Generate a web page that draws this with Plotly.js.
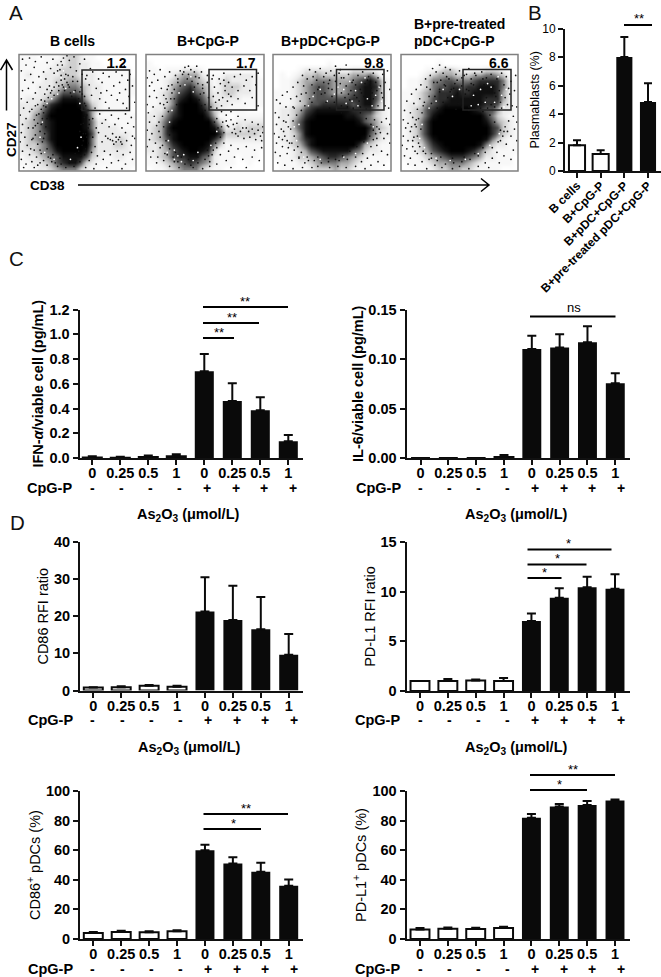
<!DOCTYPE html>
<html><head><meta charset="utf-8">
<script src="https://cdn.plot.ly/plotly-3.0.1.min.js"></script>
<style>html,body{margin:0;padding:0;background:#fff}#c{width:661px;height:977px}</style></head>
<body><div id="c"></div>
<script>
// ---------- data ----------
const doseLabels = ['0','0.25','0.5','1','0','0.25','0.5','1'];
const cpgLabels = ['-','-','-','-','+','+','+','+'];
const plasmaLabels = ['B cells','B+CpG-P','B+pDC+CpG-P','B+pre-treated pDC+CpG-P'];
const plasmaVal = [1.8,1.2,8.0,4.85];
const plasmaErr = [0.35,0.25,1.4,1.3];
const ifnVal = [0.005,0.003,0.008,0.015,0.70,0.46,0.385,0.135];
const ifnErr = [0.010,0.008,0.012,0.015,0.14,0.145,0.105,0.05];
const il6Val = [0,0,0,0.001,0.110,0.1115,0.117,0.0755];
const il6Err = [0,0,0,0.002,0.0135,0.0135,0.016,0.010];
const cd86RfiVal = [0.8,0.85,1.3,1.0,21.3,19,16.5,9.6];
const cd86RfiErr = [0.05,0.3,0.2,0.3,9.2,9.2,8.7,5.6];
const pdl1RfiVal = [1,1,1.05,1,7.05,9.4,10.45,10.3];
const pdl1RfiErr = [0,0.2,0.1,0.3,0.75,0.95,1.05,1.45];
const cd86PctVal = [4,4.8,4.6,5.2,60,51,45.5,36];
const cd86PctErr = [0.8,0.7,0.7,0.7,3.7,4.3,6,4.2];
const pdl1PctVal = [6.5,7,6.8,7.5,82,89.5,90.5,93.5];
const pdl1PctErr = [1,0.7,0.8,0.7,2.5,1.8,2.8,0.8];
const gateValues = ['1.2','1.7','9.8','6.6'];
// estimated dot density in the CD38/CD27 plots: 20 x 20 cells, 0 = empty, 9 = solid black
const densityB = ["11101112332110000000","11111122332211000000","11111223332211111110","12112223332221111110","11112233443221111111","11122234554322111111","11122346665322111111","12223468887422111110","22235789998632111110","22346899999742111110","22457999999841111111","23457899999852211111","23457899999852222111","23456899999962222221","23456899999952222321","23345799999952223321","22345689999842222221","12234568888632112211","11223467886321111111","01122345553211011110"];
const densityCpG = ["00000000000000000000","10000000000000000000","11011122210000000000","11112344421112222210","11123455432123222211","01124567543123332211","11234678653223322211","11235789864222221111","11235899975322111111","12246899986321111000","22357899997411011111","22468999999631122222","23479999999852232333","23478999999973333332","23468999999752222222","22357899998531111111","22346789987311111110","12346778865211101110","11234567654211100100","01123455532110000000"];
const densityPdc = ["00000000000000000000","00000000010000000000","00001222222112221100","01012334333334445310","01123445554445678631","01123456654456788731","11123456654456788631","11123456666667788631","11123466777776788521","12234678888887777421","12235789999988765321","12246899999999865421","12246899999999997432","12235899999999996422","12235789999999985321","11234689999999743211","11123467888886532211","11123345677654321111","01112234555443211110","01111123334332111100"];
const densityPre = ["00000000000000000000","00000010000000000000","00001123321111222100","00012344433344554310","01123556655567777521","01123566776778887521","11234577787788887421","11234677888888777421","12235678888888776321","12346789999987664221","12346899999999753211","12357999999999864321","12357999999999976321","12357999999999975321","12346899999999853211","11235789999998532211","11234678999875321111","11123456777654221110","01112344555432111110","00111233443321111000"];
// individual events estimated from the plots: x,y pairs in percent of the plot (y downward)
const dotsB = [3,4,9,3,14,6,19,2,24,7,29,4,33,9,38,3,43,5,47,2,41,1,36,6,52,8,56,4,27,12,21,15,13,11,6,9,2,14,10,17,17,19,5,22,12,24,23,21,30,16,35,13,44,11,49,14,54,17,46,19,39,21,32,24,26,27,18,28,8,29,3,31,14,33,22,34,28,31,36,18,42,26,50,23,53,28,57,21,
2,38,7,41,12,38,4,46,9,49,1,52,6,55,3,60,8,63,2,67,5,71,1,75,7,78,3,83,9,86,2,90,6,94,11,92,13,97,4,97,16,95,10,81,12,72,14,61,15,52,16,43,19,39,21,44,
58,18,63,15,68,21,72,16,77,19,83,15,88,18,93,22,60,26,66,29,71,24,75,31,81,27,86,24,91,30,95,17,62,35,69,38,74,41,79,35,84,39,89,42,94,36,57,44,65,46,70,33,77,46,86,33,92,46,61,12,76,11,90,10,97,27,99,41,
58,52,63,55,69,51,74,56,79,52,85,55,91,51,96,54,60,60,66,63,71,59,77,62,82,60,88,63,93,59,98,62,57,68,63,71,68,67,74,70,80,68,86,71,91,67,97,70,59,76,65,79,71,75,76,72,78,73,80,74,83,75,85,73,88,77,92,74,96,78,99,72,62,84,67,87,73,83,78,86,84,83,89,86,95,84,60,91,66,94,72,90,79,93,85,91,91,94,97,90,57,97,64,98,75,97,88,98,81,77,83,71,87,75,
24,30,30,28,37,26,43,28,52,32,56,36,21,50,24,55,19,60,22,68,20,75,18,82,25,88,28,92,33,96,40,97,47,96,52,92,56,86,54,78,55,68,53,60,56,54,
11,47,14,44,17,51,13,56,16,59,12,63,18,66,14,69,11,73,16,77,13,82,19,85,15,88,21,91,24,95,18,93,27,89,31,93,36,94,43,93,49,91,53,87,51,83,57,81,55,74,58,71,52,66,59,63,55,59,60,56,57,52,53,47,59,48,56,42,51,38,54,34,48,31,44,33,41,24,38,28,34,31,30,35,25,37,22,40,27,33,19,47,23,45,36,22,40,17,33,14,37,9,42,18,34,27,46,23,39,31,45,36,20,55,23,62,21,72,24,81,29,86,35,89,42,88,48,85];
const dotsCpG = [3,14,7,17,12,13,1,20,5,24,10,22,16,19,20,15,25,18,29,14,33,11,38,13,43,10,47,15,52,18,56,21,27,24,19,27,13,29,7,31,3,27,9,37,15,35,22,33,3,36,1,43,6,45,12,42,18,41,24,38,48,26,52,24,49,33,53,37,50,43,55,45,
2,50,7,53,3,58,9,61,1,65,5,68,11,66,3,73,8,76,1,79,6,83,12,80,10,88,4,88,15,91,18,86,9,93,20,96,24,92,28,97,
57,18,62,21,66,16,70,24,75,19,80,17,85,22,90,19,95,16,58,28,63,25,67,31,61,33,65,37,70,34,73,28,78,31,83,27,88,31,93,26,59,41,64,44,69,40,73,43,78,38,84,42,90,37,95,44,57,36,62,39,67,27,60,46,72,36,66,22,
68,52,72,56,77,59,82,63,87,66,92,68,97,70,75,64,80,66,85,63,90,64,95,65,99,67,70,62,73,67,78,70,83,72,88,71,93,73,98,74,60,55,65,58,64,49,72,49,78,53,84,56,90,58,95,60,99,62,
66,76,72,78,60,80,56,86,63,86,70,83,78,81,85,79,92,82,98,80,68,91,75,88,82,90,90,88,96,91,60,94,54,96,72,97,85,97,48,98,40,97,
18,30,22,26,27,21,31,17,36,17,41,15,45,20,44,25,48,29,46,34,45,39,47,44,50,48,16,46,14,53,19,49,11,58,15,62,12,71,17,74,14,78,20,81,16,85,23,88,27,92,33,94,38,95,44,93,50,90,53,87,57,82,59,76,63,71,66,67,69,61,58,58,61,63,24,30,29,27,35,21,41,28,21,38,26,43,17,38,15,43,20,69,25,84,30,88,36,90,44,88,52,82,54,92,32,15,36,10,42,19,39,23,64,62,68,57,74,60,76,68];
const dotsPdc = [31,13,36,15,40,12,45,16,49,14,25,18,29,21,34,19,21,24,26,27,17,28,12,32,8,35,15,38,6,42,11,45,3,39,20,36,23,40,18,46,52,18,48,22,53,10,57,13,62,9,
2,50,5,54,9,57,3,60,7,64,13,62,1,68,5,71,10,70,3,76,8,79,14,76,2,84,6,87,12,85,18,82,4,93,10,95,16,91,22,89,27,93,33,97,25,97,17,98,38,96,
56,16,60,20,64,17,68,22,72,18,76,15,81,19,85,16,89,20,93,17,95,24,91,27,87,24,83,29,78,25,74,30,70,26,66,31,62,27,58,33,57,25,61,37,65,39,69,35,73,40,77,36,81,42,85,38,89,44,93,37,95,44,58,44,63,45,68,46,74,45,79,47,84,33,88,31,92,33,80,22,82,26,75,33,71,37,67,24,64,34,
97,14,99,30,98,46,96,55,99,60,92,58,97,68,94,72,99,76,88,78,92,83,97,86,85,86,80,89,89,92,94,95,75,92,70,96,62,97,55,96,48,97,83,95,78,98,90,64,87,68,85,73,43,24,47,29,41,34,50,36,45,41,38,30,33,26,
24,48,20,52,17,57,15,64,18,70,16,76,21,79,24,84,29,88,35,91,41,93,47,92,53,90,59,87,65,83,71,79,77,75,82,70,85,65,83,60,79,55,74,50,68,47,27,44,31,38,35,33,39,28,33,41,28,33,24,34,37,22,43,19,47,25,44,33,50,30,53,23,58,20,52,41,48,46,17,45,13,52,11,58,9,66,12,74,8,73,13,80,22,88,30,91,38,88,47,89,56,91,63,90,70,88,76,85,83,79,88,72,91,67,88,62,86,56,58,50,63,50];
const dotsPre = [27,12,33,9,38,11,30,15,25,18,21,21,36,16,42,13,47,17,17,26,13,30,9,34,22,28,28,24,34,22,41,21,5,40,11,42,16,38,3,48,8,50,14,47,19,44,46,25,50,14,54,18,58,12,63,16,
2,56,6,59,10,54,4,63,8,66,13,62,2,70,6,74,11,71,1,78,5,81,10,79,15,76,3,87,8,89,14,85,19,83,6,94,12,95,18,92,24,90,29,95,35,97,22,98,
56,17,60,21,64,18,69,15,73,20,77,17,82,21,86,16,90,19,94,23,92,29,88,26,84,31,79,27,75,32,71,26,66,30,62,26,58,31,57,38,61,42,65,36,69,41,73,37,77,43,81,36,85,41,89,37,93,34,95,44,58,45,63,33,68,46,74,46,80,45,86,46,91,43,70,21,80,33,
98,18,97,31,99,45,96,53,99,58,92,57,97,64,88,66,94,70,99,74,85,74,90,77,96,82,82,84,88,87,94,90,78,89,84,93,72,93,66,96,58,98,50,96,44,98,75,97,43,30,47,35,40,37,49,42,38,27,33,32,
25,30,29,36,33,30,37,26,42,32,45,29,48,22,52,27,39,19,31,24,24,36,20,41,26,42,31,46,36,41,41,44,47,47,52,45,54,38,18,50,15,55,12,60,17,64,14,70,10,74,16,79,12,83,21,85,26,89,31,91,38,94,45,93,52,92,59,90,66,87,72,84,78,80,83,75,87,70,85,65,80,58,76,52,70,49,63,48,58,48,55,34,52,20,60,25,56,30,26,85,34,88,44,89,54,88,63,85,70,80,13,56,9,62,89,62,91,66];
// small gaps seen between the events inside the grey clouds
const gapsB = [24,42,28,38,33,34,40,29,47,32,20,58,18,71,22,84,30,90,44,90,50,80,53,71,52,42,36,20,38,14];
const gapsCpG = [28,33,33,26,38,19,40,32,22,48,20,58,19,74,24,82,32,86,44,84,30,92,40,91,55,78,60,66,24,90,27,87,18,84];
const gapsPdc = [60,30,65,23,70,31,75,24,80,38,84,44,90,28,62,42,67,40,72,44,78,20,87,35,92,40,40,30,34,36,30,44,46,40,52,34,22,60,18,62,20,74,26,88,40,90,60,88,70,85,80,76,85,62,55,28];
const gapsPre = [62,35,68,30,74,25,80,41,86,35,90,30,66,43,72,41,77,28,83,19,60,44,88,45,36,30,30,40,44,36,50,30,24,46,18,60,16,72,20,80,30,89,42,91,55,90,66,85,76,78,84,68];

// ---------- geometry (pixels of the 661x977 page) ----------
const W=661,H=977,FF='"Liberation Sans", Arial, sans-serif',INK='#000';
const xd=(a,b)=>[a/W,b/W], yd=(a,b)=>[1-b/H,1-a/H], px=v=>v/W, py=v=>1-v/H;
const layout={width:W,height:H,margin:{l:0,r:0,t:0,b:0},paper_bgcolor:'#fff',plot_bgcolor:'rgba(0,0,0,0)',showlegend:false,
  bargap:0.32,shapes:[],annotations:[],font:{family:FF,color:INK}};
const traces=[];
let axisN=0;
const text=(x,y,t,o={})=>layout.annotations.push(Object.assign({xref:'paper',yref:'paper',x:px(x),y:py(y),text:t,showarrow:false,borderpad:0,xanchor:'center',yanchor:'middle',font:{family:FF,size:13.5,color:INK,weight:'bold'}},o));
const seg=(x0,y0,x1,y1,w=2,c=INK)=>layout.shapes.push({type:'line',xref:'paper',yref:'paper',x0:px(x0),x1:px(x1),y0:py(y0),y1:py(y1),line:{color:c,width:w}});

// ---------- flow plots ----------
const flowPanels=[
 {z:densityB,dots:dotsB,gaps:gapsB,l:19,r:136,gate:[82,129.5,70,110.5],num:117},
 {z:densityCpG,dots:dotsCpG,gaps:gapsCpG,l:146,r:264,gate:[209,256.5,69.5,110],num:245.5},
 {z:densityPdc,dots:dotsPdc,gaps:gapsPdc,l:273,r:391,gate:[336.5,384,69.5,110],num:374},
 {z:densityPre,dots:dotsPre,gaps:gapsPre,l:401,r:518,gate:[463,511,69.5,110],num:498.5}];
const xs=a=>a.filter((_,j)=>j%2===0).map(v=>v/5-0.5), ys=a=>a.filter((_,j)=>j%2===1).map(v=>v/5-0.5);
flowPanels.forEach((p,i)=>{
  axisN++; const k=axisN===1?'':axisN;
  traces.push({type:'heatmap',xaxis:'x'+k,yaxis:'y'+k,z:p.z.map(r=>[...r].map(Number)),zmin:0,zmax:9,zsmooth:'best',showscale:false,hoverinfo:'skip',
    colorscale:[[0,'#ffffff'],[0.11,'#f8f8f8'],[0.22,'#ececec'],[0.33,'#d0d0d0'],[0.44,'#aaaaaa'],[0.55,'#7c7c7c'],[0.67,'#505050'],[0.78,'#2c2c2c'],[0.89,'#101010'],[1,'#000000']]});
  traces.push({type:'scatter',mode:'markers',xaxis:'x'+k,yaxis:'y'+k,x:xs(p.gaps),y:ys(p.gaps),hoverinfo:'skip',marker:{color:'#fff',size:1.7,line:{width:0}}});
  traces.push({type:'scatter',mode:'markers',xaxis:'x'+k,yaxis:'y'+k,x:xs(p.dots),y:ys(p.dots),hoverinfo:'skip',marker:{color:'#111',size:1.7,line:{width:0}}});
  layout['xaxis'+k]={domain:xd(p.l,p.r),range:[-0.5,19.5],visible:false,anchor:'y'+k};
  layout['yaxis'+k]={domain:yd(54.5,171),range:[19.5,-0.5],visible:false,anchor:'x'+k};
  layout.shapes.push({type:'rect',xref:'paper',yref:'paper',x0:px(p.l),x1:px(p.r),y0:py(54.5),y1:py(171),line:{color:'#808080',width:1.5}});
  layout.shapes.push({type:'rect',xref:'paper',yref:'paper',x0:px(p.gate[0]),x1:px(p.gate[1]),y0:py(p.gate[2]),y1:py(p.gate[3]),line:{color:'#222',width:1.5}});
  text(p.num,62.5,gateValues[i],{font:{family:FF,size:14,color:INK,weight:'bold'}});
});
const flowTitle={font:{family:FF,size:14,color:INK,weight:'bold'}};
text(72.5,41,'B cells',flowTitle); text(207.5,41,'B+CpG-P',flowTitle); text(330,41,'B+pDC+CpG-P',flowTitle);
text(412.5,24,'B+pre-treated',{...flowTitle,xanchor:'left'}); text(412.5,41,'pDC+CpG-P',{...flowTitle,xanchor:'left'});
text(12,140,'CD27',{textangle:-90}); text(47,186,'CD38');
layout.shapes.push({type:'path',xref:'paper',yref:'paper',path:`M${px(78)},${py(185)} L${px(489)},${py(185)} M${px(481)},${py(178.5)} L${px(489)},${py(185)} L${px(481)},${py(191.5)}`,line:{color:INK,width:1.5}});
layout.shapes.push({type:'path',xref:'paper',yref:'paper',path:`M${px(6.5)},${py(110.5)} L${px(6.5)},${py(60)} M${px(0.5)},${py(70)} L${px(6.5)},${py(60)} L${px(12.5)},${py(70)}`,line:{color:INK,width:1.5}});

// panel letters
[['A',16,12],['B',535,12],['C',16,259],['D',17,522]].forEach(a=>text(a[1],a[2],a[0],{font:{family:FF,size:20.5,color:'#111'}}));

// ---------- bar panels ----------
function bars(o){
  axisN++; const k=axisN;
  const fill=o.val.map((_,i)=>i<o.open?'#ffffff':'#0a0a0a');
  traces.push({type:'bar',xaxis:'x'+k,yaxis:'y'+k,x:o.val.map((_,i)=>i),y:o.val,hoverinfo:'skip',
    marker:{color:fill,line:{color:'#0a0a0a',width:o.val.map((_,i)=>i<o.open?2:0)}},
    error_y:{type:'data',array:o.err,arrayminus:o.val.map(()=>0),color:'#0a0a0a',thickness:2,width:o.cap||4.5}});
  const s=(o.tick1-o.tick0)/(o.n-1);
  layout['xaxis'+k]={domain:xd(o.l,o.r),range:[(o.l-o.tick0)/s,(o.r-o.tick0)/s],anchor:'y'+k,tickmode:'array',tickvals:o.val.map((_,i)=>i),ticktext:o.labels,
    showline:true,linecolor:'#111',linewidth:2,ticks:'outside',ticklen:5,tickwidth:2,tickcolor:'#111',showgrid:false,zeroline:false,ticklabelstandoff:-4,
    tickangle:o.angle||0,tickfont:o.xfont||{family:FF,size:14.5,color:INK,weight:'bold'}};
  layout['yaxis'+k]={domain:yd(o.top,o.bot),range:[0,o.max],anchor:'x'+k,tickmode:'array',tickvals:o.ticks,ticktext:o.tickText,
    showline:true,linecolor:'#111',linewidth:2,ticks:'outside',ticklen:5,tickwidth:2,tickcolor:'#111',showgrid:false,zeroline:false,
    tickfont:o.yfont||{family:FF,size:14.5,color:INK,weight:'bold'},
    title:{text:o.title,standoff:o.standoff,font:o.titleFont||{family:FF,size:14.5,color:INK}}};
  (o.sig||[]).forEach(g=>{seg(g[0],g[2],g[1],g[2],2);
    text(g[4],g[2]-(g[3]==='ns'?9:6),g[3],{font:{family:FF,size:13,color:INK}});});
  if(o.cpgY){
    text(o.cpgEnd,o.cpgY,'CpG-P',{xanchor:'right',font:{family:FF,size:14.5,color:INK,weight:'bold'}});
    const off=[0,29,58,87,115,144,172,201];
    cpgLabels.forEach((c,i)=>text(o.cpgStart+off[i],o.cpgY,c,{font:{family:FF,size:14,color:INK,weight:'bold'}}));
  }
  if(o.doseY) text(o.doseX,o.doseY,'As<sub>2</sub>O<sub>3</sub> (μmol/L)',{font:{family:FF,size:14.5,color:INK,weight:'bold'}});
}
const boldT={family:FF,size:14.5,color:INK,weight:'bold'};
bars({val:plasmaVal,err:plasmaErr,labels:plasmaLabels,open:2,n:4,l:565,r:661,tick0:577,tick1:648,top:28.5,bot:171,max:10,ticks:[0,2,4,6,8,10],tickText:['0','2','4','6','8','10'],
  title:'Plasmablasts (%)',standoff:0,cap:4,angle:-45,xfont:{family:FF,size:12,color:INK,weight:'bold'},yfont:{family:FF,size:12,color:INK},titleFont:{family:FF,size:12.5,color:INK},
  sig:[[624,652,25,'**',639]]});
const L={n:8,l:79.5,r:303,tick0:92.3,tick1:288.3,labels:doseLabels,open:4};
const R={n:8,l:406.5,r:630,tick0:420.5,tick1:615.3,labels:doseLabels,open:4};
bars({...L,val:ifnVal,err:ifnErr,top:309.5,bot:458,max:1.2,ticks:[0,0.2,0.4,0.6,0.8,1,1.2],tickText:['0.0','0.2','0.4','0.6','0.8','1.0','1.2'],
  title:'IFN-<i>α</i>/viable cell (pg/mL)',standoff:2,titleFont:boldT,
  sig:[[203,288,307,'**',245],[203,259,323,'**',232],[203,234,338,'**',219]],cpgY:488,cpgEnd:73,cpgStart:92,doseY:515,doseX:188});
bars({...R,val:il6Val,err:il6Err,top:309.5,bot:458,max:0.15,ticks:[0,0.05,0.1,0.15],tickText:['0.00','0.05','0.10','0.15'],
  title:'IL-6/viable cell (pg/mL)',standoff:1,titleFont:boldT,
  sig:[[530,615.5,316.5,'ns',574]],cpgY:488,cpgEnd:401.5,cpgStart:420,doseY:515,doseX:516});
bars({...L,l:80,val:cd86RfiVal,err:cd86RfiErr,tick0:93.3,tick1:288.7,top:542,bot:690.5,max:40,ticks:[0,10,20,30,40],tickText:['0','10','20','30','40'],
  title:'CD86 RFI ratio',standoff:2,cpgY:720,cpgEnd:74,cpgStart:93,doseY:748,doseX:189});
bars({...R,val:pdl1RfiVal,err:pdl1RfiErr,tick0:420,tick1:615,top:542,bot:691,max:15,ticks:[0,5,10,15],tickText:['0','5','10','15'],
  title:'PD-L1 RFI ratio',standoff:1,
  sig:[[527.5,611.5,549.5,'*',568.5],[527.5,586.5,564.5,'*',557],[527.5,561.5,578,'*',544.5]],cpgY:720,cpgEnd:401,cpgStart:420,doseY:748,doseX:516});
bars({...L,l:80,val:cd86PctVal,err:cd86PctErr,tick0:93.3,tick1:288.7,top:791,bot:939,max:100,ticks:[0,20,40,60,80,100],tickText:['0','20','40','60','80','100'],
  title:'CD86<sup>+</sup> pDCs (%)',standoff:2,sig:[[203.5,288,814,'**',246],[203.5,261,829,'*',233]],cpgY:969,cpgEnd:74,cpgStart:93});
bars({...R,val:pdl1PctVal,err:pdl1PctErr,tick0:420,tick1:615,top:791,bot:939,max:100,ticks:[0,20,40,60,80,100],tickText:['0','20','40','60','80','100'],
  title:'PD-L1<sup>+</sup> pDCs (%)',standoff:2,sig:[[530,615,775,'**',572.5],[530,587,790,'*',559.5]],cpgY:969,cpgEnd:401,cpgStart:420});

Plotly.newPlot('c',traces,layout,{staticPlot:true,displayModeBar:false});
</script></body></html>
